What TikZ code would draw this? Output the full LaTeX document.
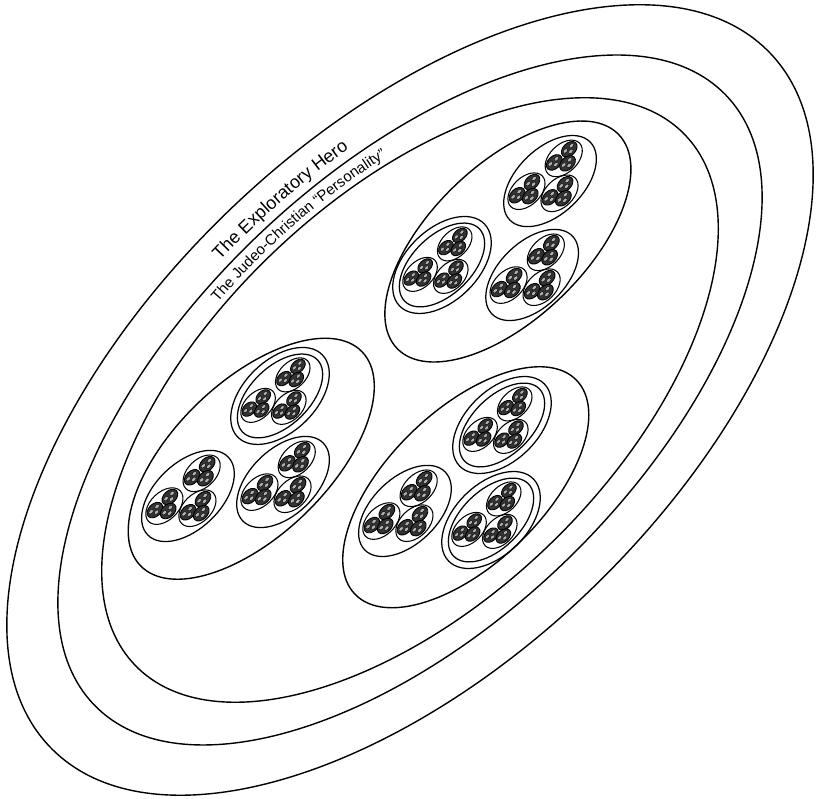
\documentclass[tikz,border=0pt]{standalone}
\usepackage{fontspec}
\setmainfont{Liberation Sans}
\usetikzlibrary{decorations.text}
\tikzset{
  ringline/.style={line width=1.4pt},
  bigline/.style={line width=1.4pt},
  medline/.style={line width=1.25pt},
  smline/.style={line width=1.05pt},
  tinyline/.style={line width=0.9pt, fill=black!80},
  dotline/.style={line width=0.4pt, fill=black!30},
  tinyblob/.pic={
    \draw[tinyline] (0,0) ellipse [x radius=9.2, y radius=6.2];
    \foreach \xd/\yd in {4.1/1.1, -3.9/1.5, -0.3/-2.6}
      \draw[dotline] (\xd,\yd) ellipse [x radius=2.7, y radius=1.7];
  },
  smallring/.pic={
    \draw[smline] (0,0) ellipse [x radius=22, y radius=14];
    \foreach \xc/\yc in {10.3/2.7, -9.6/3.7, -0.7/-6.2}
      \pic[transform shape] at (\xc,\yc) {tinyblob};
  },
  trio/.pic={
    \foreach \xb/\yb in {25.6/6.8, -24/9.1, -1.7/-15.4}
      \pic[transform shape] at (\xb,\yb) {smallring};
  },
  medsingle/.pic={
    \draw[medline] (0,0) ellipse [x radius=56, y radius=33];
    \pic[transform shape] {trio};
  },
  meddouble/.pic={
    \draw[medline] (0,0) ellipse [x radius=59, y radius=36];
    \draw[medline] (0,0) ellipse [x radius=52, y radius=29.5];
    \pic[transform shape, scale=0.93] {trio};
  },
}
\begin{document}
\begin{tikzpicture}[x=1pt,y=1pt]
\fill[white] (0,0) rectangle (816,799);
\useasboundingbox (0,0) rectangle (816,799);
\begin{scope}[shift={(410,399)}, rotate=44]
  \draw[ringline] (0,0) ellipse [x radius=500, y radius=262];
  \draw[ringline] (0,0) ellipse [x radius=439, y radius=224];
  \draw[ringline] (0,0) ellipse [x radius=382, y radius=201];
  \path[decorate, decoration={text along path, text align=center,
      text={|\fontsize{18}{18}\selectfont|The Exploratory Hero}}]
    (104:455 and 233) arc [start angle=104, end angle=64, x radius=455, y radius=233];
  \path[decorate, decoration={text along path, text align=center,
      text={|\fontsize{15}{15}\selectfont|The Judeo-Christian “Personality”}}]
    (110:395 and 207) arc [start angle=110, end angle=57, x radius=395, y radius=207];
  \foreach \p/\q in {180.5/46, -155/68, -20.5/-101.5}
    \draw[bigline] (\p,\q) ellipse [x radius=154, y radius=77];
  \foreach \p/\q in {252.8/60.2, 174.7/5.1, -226.4/85.2, -148.3/29.2, -80.7/-76.3}
    \pic[transform shape] at (\p,\q) {medsingle};
  \foreach \p/\q in {116.8/74.9, -90.7/93.2, 48.8/-81.9, -25.1/-142.6}
    \pic[transform shape] at (\p,\q) {meddouble};
\end{scope}
\end{tikzpicture}
\end{document}
